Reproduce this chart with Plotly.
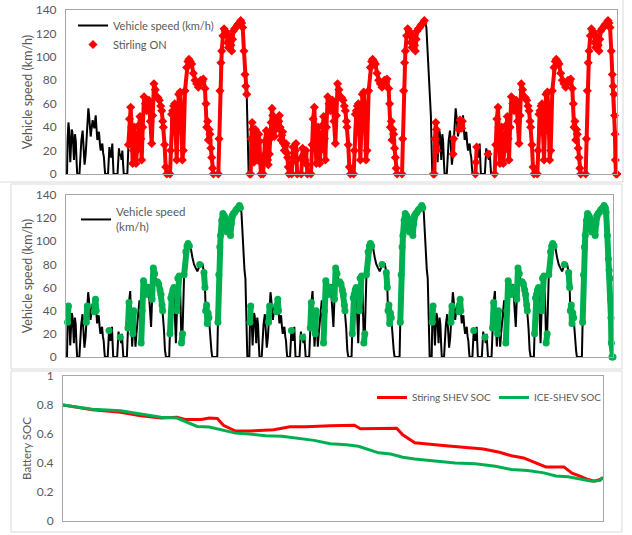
import plotly.graph_objects as go

W, H = 632, 535
CYCLE = 1800
N_CYCLES = 3

# One drive cycle (time s, speed km/h); repeated 3 times
cycle_t = [0, 10, 16, 24, 30, 36, 42, 48, 56, 62, 68, 78, 88, 96, 104, 110, 132, 140, 150, 163, 170, 176, 182,
           193, 200, 210, 219, 226, 234, 242, 250, 261, 270, 278, 285, 291, 298, 307, 315, 323, 332, 340, 348,
           356, 364, 372, 378, 384, 412, 418, 425, 432, 441, 448, 454, 460, 466, 505, 512, 519, 526, 536, 544,
           552, 560, 566, 601, 611, 622, 634, 643, 653, 660, 670, 678, 686, 695, 709, 718, 725, 733, 742, 752,
           765, 778, 791, 802, 813, 826, 840, 850, 862, 875, 889, 902, 915, 928, 938, 948, 954, 966, 977, 987,
           1019, 1026, 1035, 1045, 1055, 1065, 1075, 1085, 1095, 1104, 1118, 1128, 1140, 1150, 1166, 1183, 1195,
           1205, 1218, 1232, 1248, 1264, 1280, 1297, 1310, 1320, 1335, 1346, 1362, 1372, 1379, 1388, 1395, 1403,
           1411, 1420, 1428, 1436, 1444, 1493, 1500, 1509, 1518, 1526, 1538, 1549, 1562, 1575, 1583, 1591, 1599,
           1607, 1616, 1624, 1632, 1640, 1653, 1666, 1678, 1689, 1700, 1712, 1722, 1732, 1744, 1754, 1762, 1771,
           1776, 1780, 1784, 1790]
cycle_v = [0, 0, 30, 44, 38, 20, 10, 22, 38, 36, 30, 12, 34, 28, 10, 0, 0, 16, 28, 37, 25, 12, 8,
           17, 30, 44, 56, 50, 40, 32, 38, 46, 42, 39, 45, 50, 40, 29, 33, 36, 26, 20, 24,
           26, 18, 14, 6, 0, 0, 10, 23, 18, 14, 20, 26, 12, 0, 0, 14, 22, 16, 17, 12,
           20, 8, 0, 0, 25, 47, 57, 40, 9, 20, 40, 24, 9, 20, 34, 42, 49, 30, 12, 40,
           66, 60, 54, 60, 63, 45, 26, 50, 77, 72, 66, 65, 63, 58, 54, 45, 40, 25, 6, 0,
           0, 20, 51, 54, 58, 60, 35, 12, 40, 68, 70, 55, 12, 20, 71, 91, 96,
           98, 96, 94, 86, 80, 77, 74, 77, 80, 79, 81, 73, 60, 40, 45, 29, 38,
           34, 22, 14, 5, 0, 0, 30, 71, 95, 105, 118, 124, 122, 120, 112, 108, 114,
           117, 110, 105, 115, 122, 124, 125, 127, 128, 129, 131, 129, 125, 105, 85, 75, 68,
           50, 34, 12, 0]

# Stirling engine ON periods (s)
stirling_on = [[605, 1772], [1800, 3518], [3600, 3640], [3790, 3800], [3850, 3890], [4005, 4030],
               [4130, 4140], [4185, 5400]]
# ICE ON periods within each cycle (s), plus the final deceleration of the last cycle
ice_on_cycle = [[14, 26], [200, 212], [278, 298], [424, 426], [536, 536], [611, 622], [660, 670],
                [742, 802], [850, 875], [902, 954], [1026, 1065], [1095, 1118], [1140, 1150],
                [1166, 1218], [1320, 1320], [1362, 1372], [1379, 1411], [1500, 1722]]
ice_on_extra = [[5322, 5400]]

# Battery SOC
soc_stirling_t = [0, 294, 576, 778, 979, 1140, 1221, 1382, 1463, 1543, 1604, 1725, 1866, 2108, 2269, 2430,
                  2672, 2914, 2974, 3156, 3337, 3397, 3518, 3800, 4002, 4203, 4365, 4485, 4606, 4727, 4828,
                  5009, 5090, 5170, 5251, 5312, 5372, 5400]
soc_stirling = [0.80, 0.767, 0.75, 0.725, 0.71, 0.716, 0.70, 0.70, 0.71, 0.707, 0.66, 0.62, 0.62, 0.63, 0.65,
                0.65, 0.657, 0.66, 0.636, 0.64, 0.64, 0.595, 0.54, 0.52, 0.508, 0.497, 0.474, 0.45, 0.435,
                0.40, 0.373, 0.373, 0.33, 0.31, 0.286, 0.275, 0.286, 0.30]
soc_ice_t = [0, 294, 576, 778, 979, 1140, 1261, 1342, 1463, 1584, 1725, 1866, 2027, 2188, 2349, 2511, 2672,
             2833, 2954, 3075, 3156, 3276, 3397, 3518, 3720, 3921, 4123, 4324, 4485, 4647, 4808, 4929, 5050,
             5170, 5291, 5372, 5400]
soc_ice = [0.80, 0.77, 0.76, 0.74, 0.716, 0.71, 0.675, 0.652, 0.648, 0.63, 0.606, 0.60, 0.588, 0.584, 0.572,
           0.556, 0.533, 0.526, 0.515, 0.487, 0.47, 0.462, 0.44, 0.428, 0.416, 0.40, 0.394, 0.378, 0.355,
           0.348, 0.332, 0.31, 0.305, 0.29, 0.275, 0.28, 0.30]

speed_ticks = [0, 20, 40, 60, 80, 100, 120, 140]
soc_ticks = [0, 0.2, 0.4, 0.6, 0.8, 1]

# ---- build series ----
time, speed = [], []
for k in range(N_CYCLES):
    time += [t + k * CYCLE for t in cycle_t]
    speed += cycle_v
time.append(N_CYCLES * CYCLE)
speed.append(0)

ice_on = [[a + k * CYCLE, b + k * CYCLE] for k in range(N_CYCLES) for a, b in ice_on_cycle] + ice_on_extra


def on_series(intervals):
    xs, ys = [], []
    for lo, hi in intervals:
        for t, v in zip(time, speed):
            if lo <= t <= hi:
                xs.append(t)
                ys.append(v)
        xs.append(None)
        ys.append(None)
    return xs, ys


sx, sy = on_series(stirling_on)
gx, gy = on_series(ice_on)

GRAY = "#595959"
FONT = "Lato"
RED = "#ff0000"
GREEN = "#00b050"


def px(x):
    return x / W


def py(y):
    return 1 - y / H


fig = go.Figure()
fig.add_trace(go.Scatter(x=time, y=speed, mode="lines", line=dict(color="black", width=2),
                         name="Vehicle speed (km/h)", xaxis="x", yaxis="y", legend="legend"))
fig.add_trace(go.Scatter(x=sx, y=sy, mode="lines+markers", line=dict(color=RED, width=4),
                         marker=dict(symbol="diamond", size=7, color=RED), showlegend=False,
                         cliponaxis=False, xaxis="x", yaxis="y"))
fig.add_trace(go.Scatter(x=[None], y=[None], mode="markers", marker=dict(symbol="diamond", size=7, color=RED),
                         name="Stirling ON", xaxis="x", yaxis="y", legend="legend"))

fig.add_trace(go.Scatter(x=time, y=speed, mode="lines", line=dict(color="black", width=2),
                         name="Vehicle speed<br>(km/h)", xaxis="x2", yaxis="y2", legend="legend2"))
fig.add_trace(go.Scatter(x=gx, y=gy, mode="lines+markers", line=dict(color=GREEN, width=6),
                         marker=dict(symbol="circle", size=7, color=GREEN), showlegend=False,
                         cliponaxis=False, xaxis="x2", yaxis="y2"))

fig.add_trace(go.Scatter(x=soc_stirling_t, y=soc_stirling, mode="lines", line=dict(color=RED, width=3),
                         name="Stiring SHEV SOC", xaxis="x3", yaxis="y3", legend="legend3"))
fig.add_trace(go.Scatter(x=soc_ice_t, y=soc_ice, mode="lines", line=dict(color=GREEN, width=3),
                         name="ICE-SHEV SOC", xaxis="x3", yaxis="y3", legend="legend3"))

xcommon = dict(range=[0, N_CYCLES * CYCLE], showticklabels=False, showgrid=False, zeroline=False,
               showline=True, linecolor="#a6a6a6", linewidth=1, mirror=True, ticks="", automargin=False)
ycommon = dict(showgrid=False, zeroline=False, showline=True, linecolor="#a6a6a6", linewidth=1, mirror=True,
               ticks="outside", ticklen=6, tickcolor="rgba(0,0,0,0)", automargin=False,
               tickfont=dict(family=FONT, size=12, color=GRAY))

fig.update_layout(
    width=W, height=H, margin=dict(l=0, r=0, t=0, b=0),
    paper_bgcolor="white", plot_bgcolor="white",
    font=dict(family=FONT, color=GRAY),
    xaxis=dict(domain=[px(66), px(617)], anchor="y", **xcommon),
    yaxis=dict(domain=[py(174), py(10)], anchor="x", range=[0, 140], tickvals=speed_ticks,
               title=dict(text="Vehicle speed (km/h)", font=dict(family=FONT, size=12.5, color=GRAY), standoff=0),
               **ycommon),
    xaxis2=dict(domain=[px(66), px(613)], anchor="y2", **xcommon),
    yaxis2=dict(domain=[py(357), py(195)], anchor="x2", range=[0, 140], tickvals=speed_ticks,
                title=dict(text="Vehicle speed (km/h)", font=dict(family=FONT, size=12.5, color=GRAY), standoff=0),
                **ycommon),
    xaxis3=dict(domain=[px(63), px(603)], anchor="y3", **xcommon),
    yaxis3=dict(domain=[py(521), py(376)], anchor="x3", range=[0, 1], tickvals=soc_ticks,
                title=dict(text="Battery SOC", font=dict(family=FONT, size=11.5, color=GRAY), standoff=2),
                **ycommon),
    legend=dict(x=px(73), y=py(11), xanchor="left", yanchor="top", bgcolor="rgba(0,0,0,0)",
                font=dict(family=FONT, size=11, color=GRAY), tracegroupgap=0),
    legend2=dict(x=px(76), y=py(198), xanchor="left", yanchor="top", bgcolor="rgba(0,0,0,0)",
                 font=dict(family=FONT, size=11.5, color=GRAY)),
    legend3=dict(x=px(372), y=py(383), xanchor="left", yanchor="top", orientation="h",
                 entrywidth=77, entrywidthmode="pixels",
                 bgcolor="rgba(0,0,0,0)", font=dict(family=FONT, size=10, color=GRAY)),
    showlegend=True,
)

box = dict(type="rect", xref="paper", yref="paper", line=dict(color="#d9d9d9", width=1),
           fillcolor="rgba(0,0,0,0)", layer="below")
fig.add_shape(x0=px(-5), x1=px(623), y0=py(182), y1=py(-5), **box)
fig.add_shape(x0=px(11), x1=px(622), y0=py(369), y1=py(184), **box)
fig.add_shape(x0=px(11), x1=px(622), y0=py(532), y1=py(371), **box)

fig.write_html("out.html", config={"displayModeBar": False},
               post_script="document.body.style.margin='0';document.body.style.overflow='hidden';")
